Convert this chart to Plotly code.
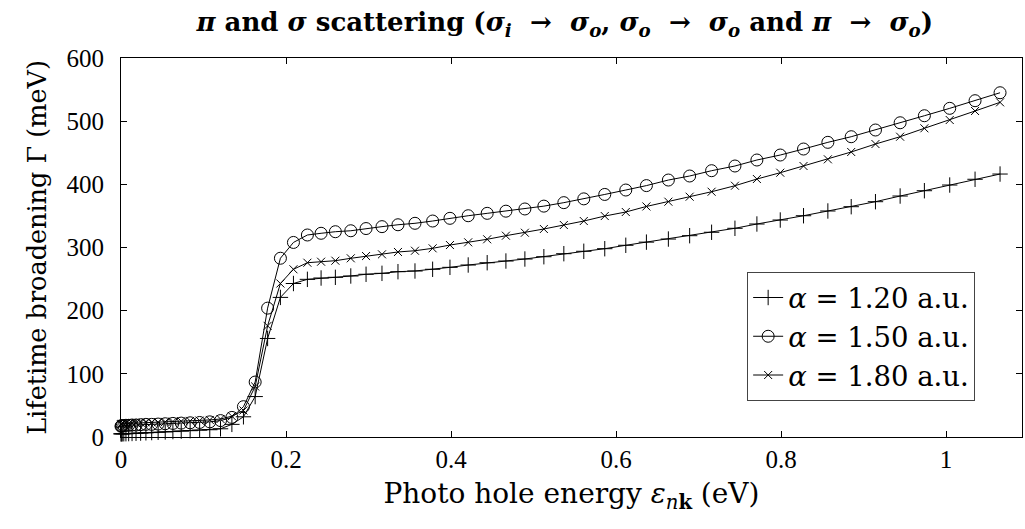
import plotly.graph_objects as go

# Photo hole energy grid (eV), shared by all three series
energy = [
    0.0000, 0.0004, 0.0015, 0.0034, 0.0060, 0.0093, 0.0134, 0.0182, 0.0238, 0.0302,
    0.0372, 0.0450, 0.0536, 0.0629, 0.0730, 0.0838, 0.0953, 0.1076, 0.1206, 0.1344,
    0.1484, 0.1626, 0.1777, 0.1932, 0.2090, 0.2259, 0.2425, 0.2598, 0.2785, 0.2970,
    0.3163, 0.3357, 0.3563, 0.3777, 0.3987, 0.4208, 0.4438, 0.4665, 0.4895, 0.5125,
    0.5367, 0.5609, 0.5863, 0.6118, 0.6368, 0.6634, 0.6892, 0.7158, 0.7441, 0.7707,
    0.7990, 0.8272, 0.8567, 0.8850, 0.9144, 0.9443, 0.9737, 1.0044, 1.0351, 1.0654,
]

# Lifetime broadening (meV) for each screening parameter alpha
gamma_120 = [
    5.0, 5.0, 5.0, 5.1, 5.2, 5.4, 5.6, 5.9, 6.2, 6.6,
    7.0, 7.5, 8.0, 8.6, 9.3, 10.0, 10.8, 11.5, 13.0, 20.0,
    32.0, 64.0, 156.0, 221.0, 243.0, 249.6, 251.7, 252.8, 254.9, 257.6,
    259.1, 261.7, 262.8, 265.5, 268.6, 272.3, 275.9, 278.6, 281.8, 285.4,
    290.2, 294.0, 298.1, 303.5, 308.5, 313.4, 318.7, 324.1, 330.4, 337.2,
    343.5, 350.3, 357.8, 364.6, 372.5, 381.5, 389.9, 398.9, 408.0, 416.3,
]
gamma_150 = [
    17.0, 17.5, 18.0, 18.0, 18.5, 18.5, 19.0, 19.0, 19.5, 20.0,
    20.0, 20.5, 21.0, 21.5, 22.0, 22.5, 23.0, 24.0, 26.0, 31.0,
    48.0, 87.0, 204.0, 283.0, 308.0, 319.8, 322.5, 325.0, 326.5, 330.0,
    333.0, 336.0, 338.3, 341.9, 346.2, 350.3, 354.1, 357.5, 361.0, 365.5,
    371.0, 377.0, 384.0, 391.0, 398.0, 406.8, 413.2, 421.6, 429.0, 438.5,
    446.4, 455.9, 466.5, 475.4, 486.0, 497.5, 508.6, 520.3, 532.4, 545.0,
]
gamma_180 = [
    20.0, 20.5, 21.0, 21.0, 21.5, 21.5, 22.0, 22.0, 22.5, 23.0,
    23.0, 23.5, 24.0, 24.5, 25.0, 25.5, 26.0, 27.0, 28.5, 33.0,
    42.0, 80.0, 176.0, 243.0, 265.5, 275.9, 277.5, 279.1, 282.9, 286.5,
    289.2, 292.9, 294.9, 298.7, 303.9, 308.2, 313.0, 318.7, 323.4, 329.3,
    335.6, 341.9, 349.8, 356.2, 365.0, 372.5, 380.4, 388.3, 397.8, 408.4,
    418.4, 429.0, 439.6, 451.2, 463.8, 475.4, 488.7, 501.8, 516.1, 529.8,
]

series = [
    ("<i>α</i> = 1.20 a.u.", gamma_120, "cross-thin-open", 11),
    ("<i>α</i> = 1.50 a.u.", gamma_150, "circle-open", 12),
    ("<i>α</i> = 1.80 a.u.", gamma_180, "x-thin-open", 8),
]

TICK_FONT = "Liberation Serif"
TEXT_FONT = "DejaVu Serif"

# wider spacing around the arrows, as in typeset math
ARROW = "\u2002\u2009→\u2002\u2009"
title_text = (
    "<b><i>π</i> and <i>σ</i> scattering (<i>σ<sub>i</sub></i>" + ARROW + "<i>σ<sub>o</sub></i>, "
    "<i>σ<sub>o</sub></i>" + ARROW + "<i>σ<sub>o</sub></i> and <i>π</i>" + ARROW
    + "<i>σ<sub>o</sub></i>)</b>"
)

fig = go.Figure()
for name, vals, sym, size in series:
    fig.add_trace(go.Scatter(
        x=energy, y=vals, name=name, mode="lines+markers",
        line=dict(color="black", width=1),
        marker=dict(symbol=sym, size=size, color="black",
                    line=dict(color="black", width=1)),
        cliponaxis=False,
    ))

axis_common = dict(
    showline=True, linecolor="black", linewidth=1, mirror="ticks",
    ticks="inside", ticklen=6, tickcolor="black", tickwidth=1,
    showgrid=False, zeroline=False,
    tickfont=dict(family=TICK_FONT, size=25, color="black"),
)

fig.update_layout(
    width=1025, height=529,
    margin=dict(l=121, r=3, t=58, b=92),
    paper_bgcolor="white", plot_bgcolor="white",
    font=dict(family=TEXT_FONT, color="black"),
    title=dict(
        text=title_text,
        x=0.551, xanchor="center", y=0.958, yanchor="middle",
        font=dict(family=TEXT_FONT, size=26, color="black"),
    ),
    xaxis=dict(
        range=[0, 1.092], tickvals=[0, 0.2, 0.4, 0.6, 0.8, 1],
        ticktext=["0", "0.2", "0.4", "0.6", "0.8", "1"],
        title=dict(text="Photo hole energy <i>ε</i><sub><i>n</i><b>k</b></sub> (eV)",
                   font=dict(family=TEXT_FONT, size=28, color="black"), standoff=11),
        **axis_common,
    ),
    yaxis=dict(
        range=[0, 600], tickvals=[0, 100, 200, 300, 400, 500, 600],
        ticklabelstandoff=11,
        title=dict(text="Lifetime broadening Γ (meV)",
                   font=dict(family=TEXT_FONT, size=25.5, color="black"), standoff=12),
        **axis_common,
    ),
    legend=dict(
        x=0.948, xanchor="right", y=0.435, yanchor="top",
        bgcolor="white", bordercolor="#444", borderwidth=1,
        font=dict(family=TEXT_FONT, size=27.5, color="black"),
        itemwidth=30, tracegroupgap=0,
    ),
    showlegend=True,
)

fig.write_html("out.html")
